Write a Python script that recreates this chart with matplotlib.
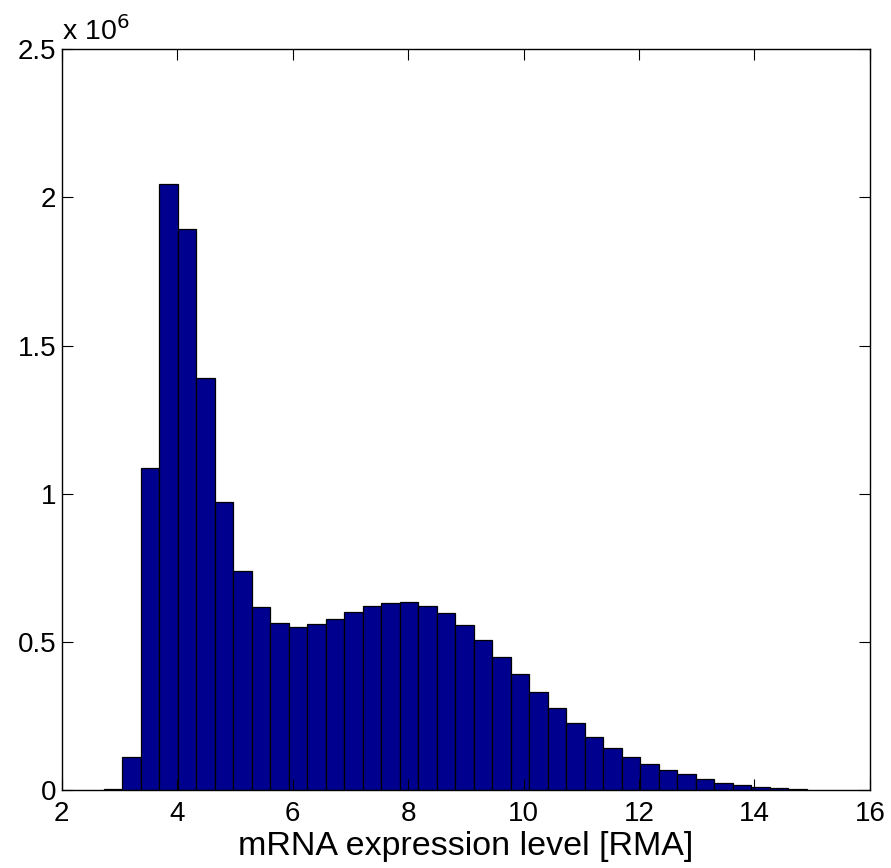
import numpy as np
import matplotlib
matplotlib.use("Agg")
import matplotlib.pyplot as plt

# histogram data (counts in units of 1e6)
bin_start = 2.733
bin_width = 0.3203
counts = [
    0.002, 0.112, 1.087, 2.045, 1.893, 1.389, 0.971, 0.739, 0.618, 0.563,
    0.550, 0.559, 0.577, 0.600, 0.620, 0.631, 0.633, 0.622, 0.596, 0.556,
    0.506, 0.449, 0.390, 0.331, 0.275, 0.225, 0.179, 0.143, 0.111, 0.087,
    0.069, 0.053, 0.037, 0.025, 0.016, 0.011, 0.006, 0.002,
]
xticks = [2, 4, 6, 8, 10, 12, 14, 16]
yticks = [0, 0.5, 1, 1.5, 2, 2.5]

plt.rcParams["font.family"] = ["Liberation Sans", "DejaVu Sans"]

fig = plt.figure(figsize=(8.91, 8.68), dpi=100)
ax = fig.add_axes([0.0692, 0.0899, 0.9072, 0.8533])

left = bin_start + bin_width * np.arange(len(counts))
ax.bar(left, counts, width=bin_width, align="edge",
       color="#00008F", edgecolor="black", linewidth=0.9)

ax.set_xlim(2, 16)
ax.set_ylim(0, 2.5)
ax.set_xticks(xticks)
ax.set_yticks(yticks)
ax.set_yticklabels(["%g" % v for v in yticks])
ax.tick_params(direction="in", length=8, width=0.8, top=True, right=True,
               labelsize=20, colors="black")
ax.tick_params(axis="x", pad=8)
ax.tick_params(axis="y", pad=4)
for s in ax.spines.values():
    s.set_linewidth(1.0)

ax.text(0.0, 1.004, r"x 10$^{6}$", transform=ax.transAxes,
        ha="left", va="bottom", fontsize=20.5)
ax.set_xlabel("mRNA expression level [RMA]", fontsize=24.5, labelpad=3)

fig.savefig("out.png", dpi=100)
